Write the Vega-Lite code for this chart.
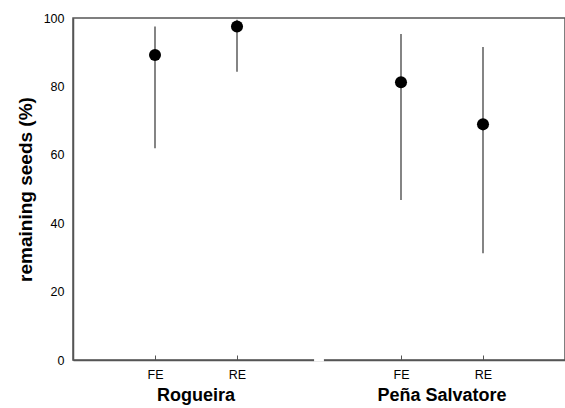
{
  "$schema": "https://vega.github.io/schema/vega-lite/v6.json",
  "width": 492,
  "height": 342,
  "autosize": "none",
  "padding": {"left": 73, "top": 18, "right": 0, "bottom": 48},
  "background": "white",
  "config": {
    "view": {"stroke": "#555", "strokeWidth": 1.5},
    "font": "Liberation Sans"
  },
  "datasets": {
    "pts": [
      {"site": "Rogueira", "treat": "FE", "pos": 1, "mean": 89.2, "lo": 61.9, "hi": 97.5},
      {"site": "Rogueira", "treat": "RE", "pos": 2, "mean": 97.5, "lo": 84.3, "hi": 99.5},
      {"site": "Peña Salvatore", "treat": "FE", "pos": 4, "mean": 81.2, "lo": 46.8, "hi": 95.3},
      {"site": "Peña Salvatore", "treat": "RE", "pos": 5, "mean": 68.9, "lo": 31.2, "hi": 91.5}
    ],
    "groups": [
      {"label": "Rogueira", "pos": 1.5, "y": -10.6},
      {"label": "Peña Salvatore", "pos": 4.5, "y": -10.6}
    ],
    "brk": [
      {"a": 2.94, "b": 3.06, "y": 0}
    ]
  },
  "layer": [
    {
      "data": {"name": "pts"},
      "mark": {"type": "rule", "color": "#333", "strokeWidth": 1.2},
      "encoding": {
        "x": {
          "field": "pos", "type": "quantitative",
          "scale": {"domain": [0, 6], "nice": false, "zero": false},
          "axis": {
            "values": [1, 2, 4, 5],
            "labelExpr": "datum.value == 1 || datum.value == 4 ? 'FE' : 'RE'",
            "title": null,
            "grid": false,
            "domainColor": "#555",
            "domainWidth": 1.5,
            "tickColor": "#555",
            "tickSize": -5,
            "labelPadding": 13,
            "labelFontSize": 12.5,
            "labelColor": "#000",
            "labelFont": "Liberation Sans"
          }
        },
        "y": {
          "field": "lo", "type": "quantitative",
          "scale": {"domain": [0, 100], "nice": false},
          "axis": {
            "values": [0, 20, 40, 60, 80, 100],
            "title": "remaining seeds (%)",
            "titleFontSize": 19,
            "titleFontWeight": "bold",
            "titleColor": "#000",
            "titleFont": "Liberation Sans",
            "titlePadding": 8,
            "grid": false,
            "ticks": false,
            "domainColor": "#555",
            "domainWidth": 1.5,
            "labelPadding": 9,
            "labelFontSize": 12.5,
            "labelColor": "#000",
            "labelFont": "Liberation Sans"
          }
        },
        "y2": {"field": "hi"}
      }
    },
    {
      "data": {"name": "pts"},
      "mark": {"type": "point", "filled": true, "color": "#000", "opacity": 1, "size": 145},
      "encoding": {
        "x": {"field": "pos", "type": "quantitative"},
        "y": {"field": "mean", "type": "quantitative"}
      }
    },
    {
      "data": {"name": "brk"},
      "mark": {"type": "rule", "color": "white", "strokeWidth": 3},
      "encoding": {
        "x": {"field": "a", "type": "quantitative"},
        "x2": {"field": "b"},
        "y": {"field": "y", "type": "quantitative"}
      }
    },
    {
      "data": {"name": "groups"},
      "mark": {"type": "text", "fontSize": 18, "fontWeight": "bold", "color": "#000", "baseline": "middle", "align": "center", "font": "Liberation Sans"},
      "encoding": {
        "x": {"field": "pos", "type": "quantitative"},
        "y": {"field": "y", "type": "quantitative"},
        "text": {"field": "label"}
      }
    }
  ]
}
